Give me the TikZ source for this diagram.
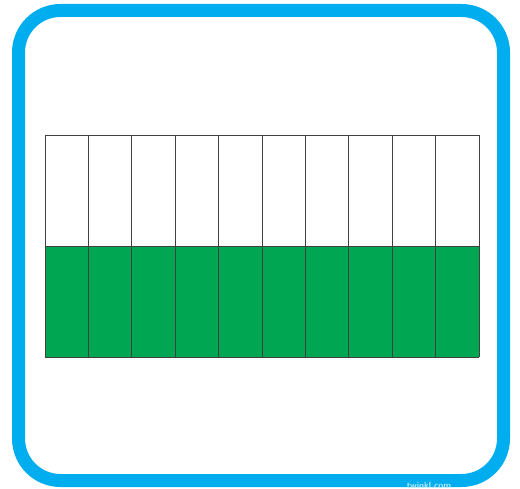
\documentclass[tikz,border=0pt]{standalone}
\usepackage{tikz}
\definecolor{framblue}{RGB}{0,174,239}
\definecolor{cellgreen}{RGB}{0,166,81}
\begin{document}
\begin{tikzpicture}[x=1pt, y=-1pt]
        \useasboundingbox (0,0) rectangle (520,489);
        %cornice
            \draw[line width=13pt, framblue, rounded corners=42pt](18.5,10.5) rectangle (503.5,480.5);
        %celle verdi
            \foreach \i in {0,...,9}{
                \fill[cellgreen](45+43.4*\i,246) rectangle ++(43.4,111);
            }
        %griglia
            \foreach \i in {0,...,10}{
                \draw[line width=0.8pt, black!75](45+43.4*\i,135)--++(0,222);
            }
            \draw[line width=0.8pt, black!75](45,135)--++(434,0);
            \draw[line width=0.8pt, black!75](45,246)--++(434,0);
            \draw[line width=0.8pt, black!75](45,357)--++(434,0);
        %label
        \node (logo) at (429,485)[text=white!70!framblue, font=\sffamily\bfseries\fontsize{9}{9}\selectfont]{twinkl.com};
\end{tikzpicture}
\end{document}
